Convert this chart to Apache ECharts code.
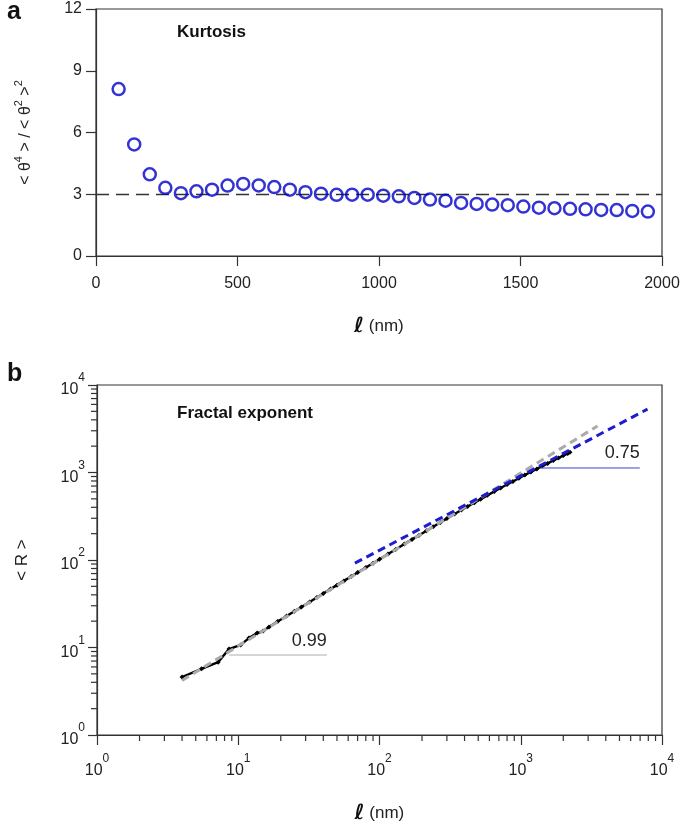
<!DOCTYPE html>
<html>
<head>
<meta charset="utf-8">
<script src="https://cdn.jsdelivr.net/npm/echarts@6/dist/echarts.min.js"></script>
<style>html,body{margin:0;padding:0;background:#fff}#c{width:685px;height:829px}</style>
</head>
<body>
<div id="c"></div>
<script>
// ---- Panel a: kurtosis ----
const kurtL = [80,135,190,245,300,355,410,465,520,575,630,685,740,795,850,905,960,1015,1070,1125,1180,1235,1290,1345,1400,1455,1510,1565,1620,1675,1730,1785,1840,1895,1950];
const kurtV = [8.11,5.42,3.97,3.31,3.05,3.14,3.22,3.42,3.50,3.43,3.35,3.22,3.10,3.03,2.97,2.98,2.98,2.93,2.90,2.82,2.74,2.69,2.58,2.53,2.50,2.47,2.40,2.35,2.32,2.29,2.27,2.24,2.23,2.19,2.16];
const gaussRef = 3;
const aXTicks = [0,500,1000,1500,2000];
const aYTicks = [0,3,6,9,12];

// ---- Panel b: fractal exponent ----
const rL = [4,5.5,7.2,8.6,10.4,11.9,13.6,15,16.5,19,22,25,28,32,36,40,45,50,56,63,70,80,90,100,115,130,150,170,190,215,240,270,300,340,380,420,470,520,580,650,720,800,880,970,1070,1180,1300,1420,1550,1700,1850,2000,2150,2230];
const rV = [4.6,5.7,6.8,9.6,10.7,12.8,14.6,15.4,17.1,19.8,22.9,26,29,33.2,37.3,41.4,46.5,51.6,57.7,64.8,71.9,82,92,102,117,132,152,172,191,216,240,269,298,335,372,408,452,496,548,606,664,728,790,860,935,1015,1100,1185,1270,1370,1465,1560,1650,1700];
const fitSmallL = [4,3500];
const fitSmallR = [4.2,3400];
const fitLargeL = [67,7900];
const fitLargeR = [92,5300];
const slopeSmallL = [8.6,42.4];
const slopeSmallR = [8.2,8.2];
const slopeLargeL = [1365,6970];
const slopeLargeR = [1126,1126];
const slopeSmallText = '0.99';
const slopeLargeText = '0.75';
const minorX = [2,3,4,5,6,7,8,9,20,30,40,50,60,70,80,90,200,300,400,500,600,700,800,900,2000,3000,4000,5000,6000,7000,8000,9000];
const minorY = minorX;

const zip = (a,b) => a.map((v,i)=>[v,b[i]]);
const FONT = 'Liberation Sans';
const axisCol = '#333';

function supLabel(v){
  const e = Math.round(Math.log10(v));
  return '{b|10}{e|' + e + '}';
}
const supRich = {
  b:{fontSize:16, fontFamily:FONT, color:'#222', lineHeight:26, verticalAlign:'bottom'},
  e:{fontSize:12, fontFamily:FONT, color:'#222', lineHeight:26, verticalAlign:'top'}
};
const lnmRich = {
  l:{fontFamily:'DejaVu Sans', fontStyle:'italic', fontWeight:'bold', fontSize:21, color:'#111'},
  n:{fontFamily:FONT, fontSize:17, color:'#222'}
};
const kurtNameRich = {
  b:{fontSize:16, fontFamily:FONT, color:'#222', lineHeight:21, verticalAlign:'bottom'},
  e:{fontSize:11, fontFamily:FONT, color:'#222', lineHeight:21, verticalAlign:'top'}
};

function minorTicks(axis){
  return {
    type:'custom', xAxisIndex:1, yAxisIndex:1, silent:true, clip:false, z:5,
    data: (axis==='x'?minorX:minorY).map(v=>[v]),
    renderItem:(params, api)=>{
      const v = api.value(0);
      if(axis==='x'){
        const p = api.coord([v,1]);
        return {type:'line', shape:{x1:p[0],y1:p[1],x2:p[0],y2:p[1]+6}, style:{stroke:axisCol,lineWidth:1.2}};
      } else {
        const p = api.coord([1,v]);
        return {type:'line', shape:{x1:p[0],y1:p[1],x2:p[0]-6,y2:p[1]}, style:{stroke:axisCol,lineWidth:1.2}};
      }
    }
  };
}

function slopeSeries(xs, ys, txt, col, w){
  return {type:'line', xAxisIndex:1, yAxisIndex:1, symbol:'circle', symbolSize:1, showSymbol:true,
    itemStyle:{color:'rgba(0,0,0,0)'}, lineStyle:{color:col, width:w}, z:3,
    data:[{value:[xs[0],ys[0]]},
          {value:[xs[1],ys[1]], label:{show:true, position:'top', align:'right', distance:5,
            formatter:txt, fontSize:18, color:'#222', fontFamily:FONT}}]};
}

const chart = echarts.init(document.getElementById('c'), null, {renderer:'canvas'});
chart.setOption({
  backgroundColor:'#fff',
  animation:false,
  textStyle:{fontFamily:FONT},
  title:[
    {text:'a', left:2, top:-5, textStyle:{fontSize:25, fontWeight:'bold', color:'#111', fontFamily:FONT}},
    {text:'Kurtosis', left:172, top:19, textStyle:{fontSize:17, fontWeight:'bold', color:'#111', fontFamily:FONT}},
    {text:'b', left:2, top:357, textStyle:{fontSize:25, fontWeight:'bold', color:'#111', fontFamily:FONT}},
    {text:'Fractal exponent', left:172, top:400, textStyle:{fontSize:17, fontWeight:'bold', color:'#111', fontFamily:FONT}}
  ],
  grid:[
    {left:96, top:9, width:566, height:247, show:true, borderColor:axisCol, borderWidth:1.2, backgroundColor:'transparent'},
    {left:97, top:385, width:565, height:350, show:true, borderColor:axisCol, borderWidth:1.2, backgroundColor:'transparent'}
  ],
  xAxis:[
    {type:'value', gridIndex:0, min:aXTicks[0], max:aXTicks[aXTicks.length-1], interval:500,
     axisLine:{lineStyle:{color:axisCol,width:1.2}}, axisTick:{length:10, lineStyle:{color:axisCol,width:1.2}},
     axisLabel:{fontSize:16, color:'#222', margin:20, fontFamily:FONT, formatter:v=>String(v)}, splitLine:{show:false},
     name:'{l|ℓ}{n| (nm)}', nameLocation:'middle', nameGap:60, nameTextStyle:{rich:lnmRich}},
    {type:'log', gridIndex:1, min:1, max:10000, logBase:10,
     axisLine:{lineStyle:{color:axisCol,width:1.2}}, axisTick:{length:10, lineStyle:{color:axisCol,width:1.2}},
     axisLabel:{formatter:supLabel, rich:supRich, margin:18}, splitLine:{show:false}, minorTick:{show:false},
     name:'{l|ℓ}{n| (nm)}', nameLocation:'middle', nameGap:68, nameTextStyle:{rich:lnmRich}}
  ],
  yAxis:[
    {type:'value', gridIndex:0, min:aYTicks[0], max:aYTicks[aYTicks.length-1], interval:3,
     axisLine:{show:true, lineStyle:{color:axisCol,width:1.2}}, axisTick:{show:true, length:10, lineStyle:{color:axisCol,width:1.2}},
     axisLabel:{fontSize:16, color:'#222', margin:14, fontFamily:FONT}, splitLine:{show:false},
     name:'{b|< θ}{e|4}{b| > / < θ}{e|2}{b| >}{e|2}', nameLocation:'middle', nameGap:62, nameRotate:90,
     nameTextStyle:{rich:kurtNameRich}},
    {type:'log', gridIndex:1, min:1, max:10000, logBase:10,
     axisLine:{show:true, lineStyle:{color:axisCol,width:1.2}}, axisTick:{show:true, length:9, lineStyle:{color:axisCol,width:1.2}},
     axisLabel:{formatter:supLabel, rich:supRich, margin:12}, splitLine:{show:false}, minorTick:{show:false},
     name:'< R >', nameLocation:'middle', nameGap:66, nameRotate:90,
     nameTextStyle:{fontSize:17, color:'#222', fontFamily:FONT}}
  ],
  series:[
    {type:'scatter', xAxisIndex:0, yAxisIndex:0, data:zip(kurtL,kurtV), symbol:'circle', symbolSize:12,
     itemStyle:{color:'rgba(255,255,255,0)', borderColor:'#0000c8', borderWidth:2.5},
     markLine:{silent:true, symbol:'none', label:{show:false}, z:1,
       lineStyle:{color:'#333', type:[13,7], width:1.3}, data:[{yAxis:gaussRef}]}},
    {type:'line', xAxisIndex:1, yAxisIndex:1, data:zip(rL,rV), symbol:'diamond', symbolSize:5, showSymbol:true,
     itemStyle:{color:'#000'}, lineStyle:{color:'#000', width:2.4}, z:2},
    {type:'line', xAxisIndex:1, yAxisIndex:1, data:zip(fitSmallL,fitSmallR), symbol:'none',
     lineStyle:{color:'#aaaaaa', width:3, type:[8,5]}, z:3},
    {type:'line', xAxisIndex:1, yAxisIndex:1, data:zip(fitLargeL,fitLargeR), symbol:'none',
     lineStyle:{color:'#1c1cd0', width:3, type:[8,5]}, z:4},
    slopeSeries(slopeSmallL, slopeSmallR, slopeSmallText, '#c8c8c8', 1.5),
    slopeSeries(slopeLargeL, slopeLargeR, slopeLargeText, '#3a45d0', 1),
    minorTicks('x'),
    minorTicks('y')
  ]
});
</script>
</body>
</html>
